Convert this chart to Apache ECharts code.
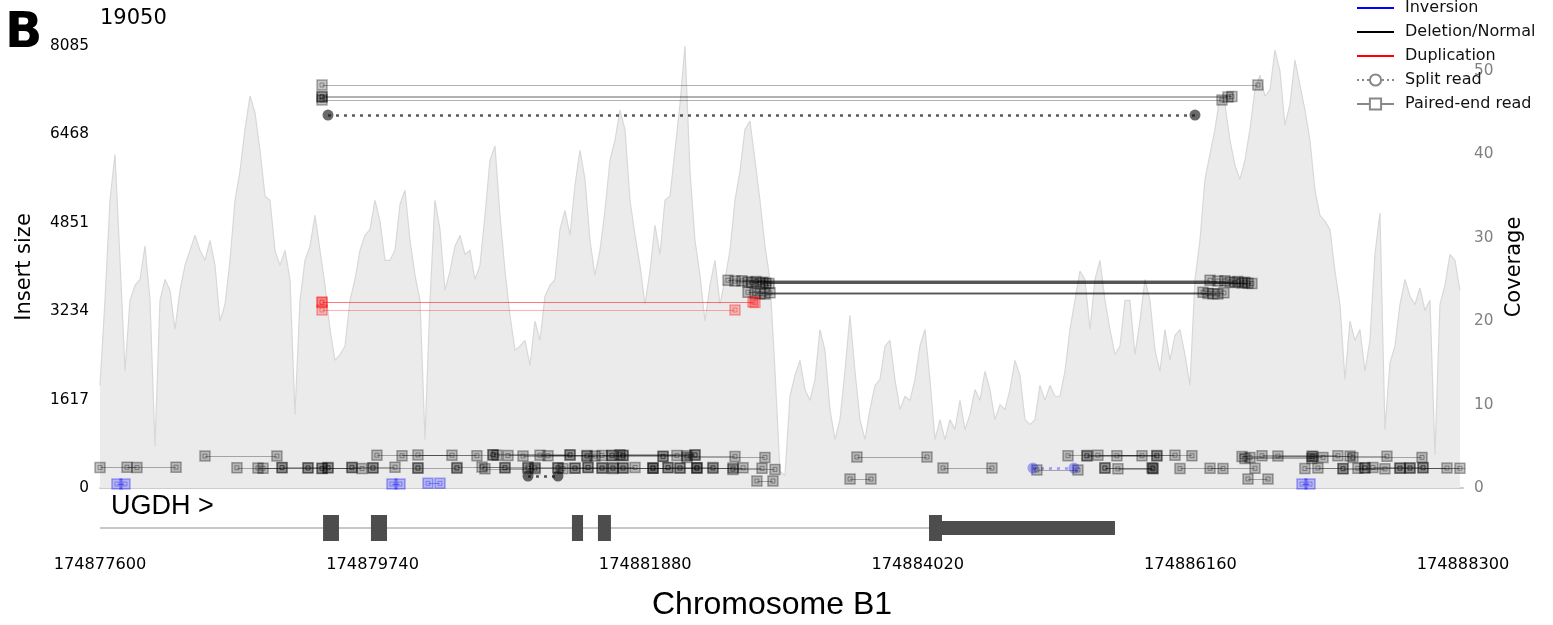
<!DOCTYPE html>
<html>
<head>
<meta charset="utf-8">
<title>19050</title>
<script src="https://cdn.jsdelivr.net/npm/echarts@6/dist/echarts.min.js"></script>
<style>
html, body { margin: 0; padding: 0; background: #fff; }
#chart { width: 1553px; height: 625px; }
</style>
</head>
<body>
<div id="chart"></div>
<script>
// window shown on chromosome B1
const regionStart = 174877600
const regionEnd = 174888300
const posTicks = [174877600, 174879740, 174881880, 174884020, 174886160, 174888300]
const insertTicks = [0, 1617, 3234, 4851, 6468, 8085]

// coverage, one value every covStep bp from covStart
const covStart = 174877600
const covStep = 39.25
const coverage = [
  12.3, 22.5, 34.5, 40, 27.3, 14, 22.5, 24.3, 25, 29, 22.5, 5, 22.5, 25, 23.7, 19, 23.7, 26.7, 28.5, 30.3,
  28.5, 27.3, 29.7, 26.7, 20, 22, 27.3, 34.5, 38, 43, 47, 45, 40.5, 35, 34.5, 28.5, 26.7, 28.5, 25, 8.8,
  22.5, 27.3, 29, 32.7, 28.5, 24.3, 19, 15.3, 16, 17, 22.5, 25, 28.5, 30.3, 31, 34.5, 32, 27.3, 27.3, 28.5,
  34, 35.7, 29.7, 25.5, 22.5, 5.8, 22.5, 34.5, 31, 23.7, 26, 29, 30.3, 28, 28.5, 25, 26.7, 32.7, 39.3, 41,
  32.7, 26, 20.7, 16.5, 17, 17.7, 14.7, 20, 17.7, 23, 24.3, 25, 31, 33.3, 30.3, 36.3, 40.5, 37, 29.7, 25.5,
  28.5, 33.3, 39.3, 41.7, 45.3, 43, 34.5, 30.3, 26.7, 22, 26, 31.5, 28, 34.5, 35, 40.5, 46, 53, 38, 29.7,
  25.5, 20, 24.3, 27.3, 22, 25, 28.5, 34.5, 38, 43, 44, 39.3, 34.5, 29, 25, 14, 2, 1.5, 11, 13.5,
  15.3, 11.8, 10.5, 13, 19, 16.5, 9.4, 5.8, 8.2, 14, 20.7, 14, 8.2, 5.8, 9.4, 12.3, 13, 17, 17.7, 13,
  9.4, 11, 10.5, 13, 17, 19, 13, 5.8, 8.2, 5.8, 8.2, 7, 10.5, 7, 8.8, 11.8, 10.5, 14, 11.8, 8.2,
  10, 9.4, 11.8, 15.3, 13.5, 8.2, 7.6, 8.2, 12.3, 10.5, 12.3, 11, 11, 14, 19, 22.5, 26, 25, 19, 25,
  27.3, 22.5, 19, 16, 17, 22.5, 22.5, 16, 20, 25, 22.5, 16.5, 14, 19, 15.3, 18.3, 19, 16, 12.3, 25,
  29.7, 37, 40, 43, 47, 46, 41.7, 38.7, 37, 39.3, 43, 47.7, 49.5, 47, 47.7, 52.5, 50, 43.5, 46, 51.3,
  48.3, 45.3, 41.7, 35.7, 32.7, 32, 31, 26, 22, 13, 20, 17.7, 19, 14, 17.7, 28, 33, 7, 15, 17,
  22, 25, 23, 22, 24, 21.3, 22.5, 4, 22, 24.3, 28, 27.3, 23.7
]

// paired-end reads: [start, end, insert size]
const pairsDel = [
  [174879343, 174886690, 7371], [174879343, 174886455, 7150], [174879343, 174886486, 7160], [174879343, 174886408, 7097],
  [174882530, 174886314, 3800], [174882585, 174886376, 3785], [174882640, 174886431, 3790], [174882687, 174886471, 3770],
  [174882718, 174886510, 3760], [174882750, 174886533, 3775], [174882781, 174886565, 3750], [174882805, 174886588, 3765],
  [174882828, 174886612, 3745], [174882852, 174886643, 3740],
  [174882687, 174886259, 3580], [174882742, 174886298, 3560], [174882781, 174886337, 3555], [174882820, 174886376, 3550],
  [174882860, 174886423, 3570],
  [174878424, 174878989, 585], [174879774, 174880363, 600], [174879971, 174880559, 590], [174880096, 174880685, 605],
  [174880685, 174881290, 610], [174880716, 174881290, 600], [174880803, 174881423, 595], [174880921, 174881486, 585],
  [174881054, 174881619, 600], [174881117, 174881706, 590], [174881423, 174882020, 580], [174881541, 174882129, 595],
  [174881619, 174882208, 590], [174881706, 174882271, 600], [174881682, 174882271, 610], [174882020, 174882585, 575],
  [174882208, 174882820, 560], [174883542, 174884092, 567], [174885199, 174885780, 590], [174885348, 174885897, 585],
  [174885348, 174885897, 595], [174885434, 174886039, 600], [174885583, 174886172, 590], [174886565, 174887122, 575],
  [174886628, 174887201, 560], [174886722, 174887318, 590], [174886847, 174887413, 585], [174887114, 174887703, 580],
  [174887436, 174887978, 560], [174886588, 174887114, 540],
  [174877600, 174877890, 375], [174877812, 174878197, 380], [174878675, 174879029, 370], [174878840, 174879233, 365],
  [174878880, 174879343, 360], [174879029, 174879390, 375], [174879233, 174879578, 370], [174879343, 174879657, 355],
  [174879390, 174879743, 365], [174879578, 174879916, 380], [174879743, 174880096, 370], [174880096, 174880402, 360],
  [174880402, 174880779, 375], [174880599, 174880960, 385], [174880622, 174881015, 350], [174880779, 174881195, 365],
  [174880960, 174881329, 360], [174881015, 174881431, 375], [174881195, 174881541, 370], [174881235, 174881627, 355],
  [174881329, 174881706, 365], [174881431, 174881800, 375], [174881541, 174881941, 360], [174881627, 174882059, 370],
  [174881706, 174882153, 365], [174881941, 174882286, 370], [174881941, 174882286, 360], [174882059, 174882412, 375],
  [174882153, 174882569, 365], [174882286, 174882648, 370], [174882412, 174882797, 360], [174882569, 174882899, 340],
  [174884218, 174884602, 366], [174884955, 174885277, 330], [174885489, 174885858, 370], [174885489, 174885866, 360],
  [174885591, 174885866, 350], [174886078, 174886416, 355], [174886314, 174886667, 360], [174887059, 174887358, 355],
  [174887161, 174887530, 365], [174887358, 174887687, 350], [174887475, 174887805, 360], [174887530, 174887884, 370],
  [174887593, 174887986, 375], [174887805, 174888174, 365], [174887884, 174888276, 360], [174887986, 174888340, 365],
  [174882757, 174882883, 128], [174883488, 174883652, 165], [174886612, 174886769, 165]
]
const pairsDup = [
  [174879343, 174882726, 3402], [174879343, 174882742, 3395], [174879343, 174882585, 3256]
]
const pairsInv = [
  [174877733, 174877796, 73], [174879892, 174879955, 73], [174880175, 174880269, 85], [174887036, 174887099, 73]
]
// split reads: [start, end, insert size]
const splitDel = [[174879390, 174886196, 6822], [174880960, 174881195, 219]]
const splitInv = [[174884924, 174885246, 366]]

// UGDH gene model
const geneSpan = [174877600, 174885568]
const geneExons = [
  [174879351, 174879476], [174879727, 174879853], [174881305, 174881392],
  [174881509, 174881611], [174884108, 174884210]
]
const geneUtr = [[174884210, 174885568]]

const rgbOf = { del: '0,0,0', dup: '255,0,0', inv: '0,0,255' }
const FONT = 'DejaVu Sans'
const LINE_ICON = 'path://M0,0H40V2.2H0Z'

function ends (reads) {
  return reads.flatMap(r => [[r[0], r[2]], [r[1], r[2]]])
}

function pairSeries (reads, rgb) {
  return [
    {
      type: 'lines',
      coordinateSystem: 'cartesian2d',
      xAxisIndex: 0,
      yAxisIndex: 0,
      z: 3,
      silent: true,
      lineStyle: { color: `rgba(${rgb},0.3)`, width: 1.2, opacity: 1 },
      data: reads.map(r => ({ coords: [[r[0], r[2]], [r[1], r[2]]] }))
    },
    {
      type: 'scatter',
      xAxisIndex: 0,
      yAxisIndex: 0,
      z: 4,
      silent: true,
      symbol: 'rect',
      symbolSize: 10,
      itemStyle: { color: `rgba(${rgb},0.28)`, borderColor: `rgba(${rgb},0.4)`, borderWidth: 1.5 },
      data: ends(reads)
    },
    {
      type: 'scatter',
      xAxisIndex: 0,
      yAxisIndex: 0,
      z: 5,
      silent: true,
      symbol: 'rect',
      symbolSize: 4,
      itemStyle: { color: 'rgba(0,0,0,0)', borderColor: `rgba(${rgb},0.4)`, borderWidth: 1 },
      data: ends(reads)
    }
  ]
}

function splitSeries (reads, lineColor, dotColor) {
  return [
    {
      type: 'lines',
      coordinateSystem: 'cartesian2d',
      xAxisIndex: 0,
      yAxisIndex: 0,
      z: 3,
      silent: true,
      lineStyle: { color: lineColor, width: 2.5, type: [3, 5], opacity: 1 },
      data: reads.map(r => ({ coords: [[r[0], r[2]], [r[1], r[2]]] }))
    },
    {
      type: 'scatter',
      xAxisIndex: 0,
      yAxisIndex: 0,
      z: 4,
      silent: true,
      symbol: 'circle',
      symbolSize: 11,
      itemStyle: { color: dotColor },
      data: ends(reads)
    }
  ]
}

function geneBlocks (blocks, h) {
  return {
    type: 'custom',
    xAxisIndex: 1,
    yAxisIndex: 2,
    silent: true,
    data: blocks,
    renderItem (params, api) {
      const a = api.coord([api.value(0), 0.5])
      const b = api.coord([api.value(1), 0.5])
      return {
        type: 'rect',
        shape: { x: a[0], y: a[1] - h / 2, width: b[0] - a[0], height: h },
        style: { fill: '#4d4d4d' }
      }
    }
  }
}

const legendItems = [
  { name: 'Inversion', type: 'line', data: [], symbol: 'none', color: '#0000ff', lineStyle: { width: 2 } },
  { name: 'Deletion/Normal', type: 'line', data: [], symbol: 'none', color: '#000', lineStyle: { width: 2 } },
  { name: 'Duplication', type: 'line', data: [], symbol: 'none', color: '#ff0000', lineStyle: { width: 2 } },
  { name: 'Split read', type: 'line', data: [], symbol: 'emptyCircle', symbolSize: 8, color: '#888', lineStyle: { width: 2, type: [2, 3] } },
  { name: 'Paired-end read', type: 'line', data: [], symbol: 'emptyRect', symbolSize: 8, color: '#888', lineStyle: { width: 2 } }
]

const option = {
  animation: false,
  backgroundColor: '#fff',
  textStyle: { fontFamily: FONT },
  graphic: [
    { type: 'text', left: 5, top: 10, style: { text: 'B', font: 'bold 49px "DejaVu Sans"', fill: '#000' } },
    { type: 'text', left: 100, top: 8, style: { text: '19050', font: '21px "DejaVu Sans"', fill: '#000' } },
    { type: 'text', left: 111, top: 493, style: { text: 'UGDH >', font: '27px "Liberation Sans"', fill: '#000' } },
    { type: 'text', left: 652, top: 589, style: { text: 'Chromosome B1', font: '32px "Liberation Sans"', fill: '#000' } }
  ],
  legend: {
    orient: 'vertical',
    left: 1356,
    top: 0,
    padding: 0,
    itemWidth: 37,
    itemHeight: 14,
    itemGap: 8,
    selectedMode: false,
    textStyle: { fontFamily: FONT, fontSize: 16, color: '#111', padding: [0, 0, 0, 6] },
    data: legendItems.map((s, i) => (i < 3 ? { name: s.name, icon: LINE_ICON } : { name: s.name }))
  },
  grid: [
    { left: 100, right: 90, top: 46, height: 442 },
    { left: 100, right: 90, top: 502, height: 52 }
  ],
  xAxis: [
    {
      type: 'value',
      gridIndex: 0,
      min: regionStart,
      max: regionEnd,
      axisLine: { show: true, onZero: false, lineStyle: { color: '#cccccc', width: 2 } },
      axisTick: { show: false },
      axisLabel: { show: false },
      splitLine: { show: false }
    },
    {
      type: 'value',
      gridIndex: 1,
      min: regionStart,
      max: regionEnd,
      axisLine: { show: false },
      axisTick: { show: false },
      splitLine: { show: false },
      axisLabel: {
        customValues: posTicks,
        margin: 3,
        fontFamily: FONT,
        fontSize: 16.2,
        color: '#000',
        formatter: v => String(v)
      }
    }
  ],
  yAxis: [
    {
      type: 'value',
      gridIndex: 0,
      min: 0,
      max: 8085,
      interval: 1617,
      axisLine: { show: false },
      axisTick: { show: false },
      splitLine: { show: false },
      axisLabel: {
        customValues: insertTicks,
        margin: 11,
        fontFamily: FONT,
        fontSize: 15.3,
        color: '#000',
        formatter: v => String(v)
      },
      name: 'Insert size',
      nameLocation: 'middle',
      nameRotate: 90,
      nameGap: 65,
      nameTextStyle: { fontFamily: FONT, fontSize: 21, color: '#000' }
    },
    {
      type: 'value',
      gridIndex: 0,
      position: 'right',
      min: 0,
      max: 53,
      interval: 10,
      axisLine: { show: false },
      axisTick: { show: false },
      splitLine: { show: false },
      axisLabel: { showMaxLabel: false, margin: 11, fontFamily: FONT, fontSize: 15.3, color: '#808080' },
      name: 'Coverage',
      nameLocation: 'middle',
      nameRotate: 90,
      nameGap: 40,
      nameTextStyle: { fontFamily: FONT, fontSize: 21, color: '#000' }
    },
    { type: 'value', gridIndex: 1, min: 0, max: 1, show: false }
  ],
  series: [
    {
      name: 'Coverage',
      type: 'line',
      xAxisIndex: 0,
      yAxisIndex: 1,
      z: 1,
      silent: true,
      symbol: 'none',
      lineStyle: { color: '#d8d8d8', width: 1.2 },
      areaStyle: { color: '#ebebeb', opacity: 1 },
      data: coverage.map((v, i) => [covStart + i * covStep, v])
    },
    ...pairSeries(pairsDel, rgbOf.del),
    ...pairSeries(pairsDup, rgbOf.dup),
    ...pairSeries(pairsInv, rgbOf.inv),
    ...splitSeries(splitDel, 'rgba(0,0,0,0.65)', 'rgba(20,20,20,0.8)'),
    ...splitSeries(splitInv, 'rgba(0,0,255,0.35)', 'rgba(0,0,255,0.4)'),
    {
      type: 'lines',
      coordinateSystem: 'cartesian2d',
      xAxisIndex: 1,
      yAxisIndex: 2,
      silent: true,
      lineStyle: { color: '#c8c8c8', width: 2, opacity: 1 },
      data: [{ coords: [[geneSpan[0], 0.5], [geneSpan[1], 0.5]] }]
    },
    geneBlocks(geneExons, 26),
    geneBlocks(geneUtr, 14),
    ...legendItems
  ]
}

const chart = echarts.init(document.getElementById('chart'))
chart.setOption(option)
</script>
</body>
</html>
